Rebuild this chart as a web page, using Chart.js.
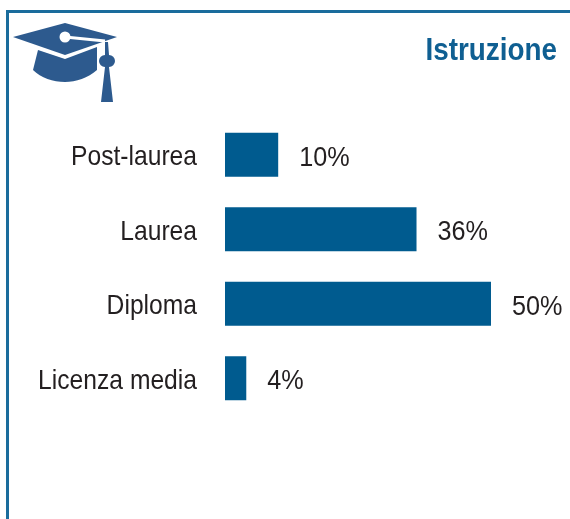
<!DOCTYPE html>
<html>
<head>
<meta charset="utf-8">
<title>Istruzione</title>
<script src="https://cdn.jsdelivr.net/npm/chart.js@4"></script>
<style>
    html, body { margin: 0; padding: 0; background: #fff; overflow: hidden; }
    #wrap { position: relative; width: 570px; height: 519px; }
    #frame { position: absolute; left: 6px; top: 10px; width: 570px; height: 520px; border-left: 3px solid #1a6c9c; border-top: 3px solid #1a6c9c; }
    #icon { position: absolute; left: 0; top: 0; }
    #chart { position: absolute; left: 0; top: 0; }
</style>
</head>
<body>
<div id="wrap">
    <div id="frame"></div>
    <canvas id="chart" width="570" height="519"></canvas>
    <svg id="icon" width="130" height="110" viewBox="0 0 130 110">
        <path fill="#2d5a8e" d="M13 37 L65 23 L117 37 L65 55 Z"/>
        <path fill="#2d5a8e" d="M38 50 L65 59 L97 47 L97 70 C88 78 76 82 65 82 C53 82 41 78 33 70 Z"/>
        <path fill="none" stroke="#fff" stroke-width="3" d="M65 37 L105 41"/>
        <circle cx="65" cy="37" r="5.5" fill="#fff"/>
        <path fill="#2d5a8e" d="M105 42 L108 42 L109 55 A6 6 0 0 1 109 67 L113 102 L101 102 L105 67 A6 6 0 0 1 105 55 Z"/>
    </svg>
</div>
<script>
const categories = ['Post-laurea', 'Laurea', 'Diploma', 'Licenza media'];
const shares = [10, 36, 50, 4];
const chartTitle = 'Istruzione';

// no narrow font is installed, so squeeze Liberation Sans sideways
function narrowText(ctx, text, x, y, align, squeeze) {
    ctx.save();
    ctx.translate(x, y);
    ctx.scale(squeeze, 1);
    ctx.textAlign = align;
    ctx.textBaseline = 'alphabetic';
    ctx.fillText(text, 0, 0);
    ctx.restore();
}

const chartText = {
    id: 'chartText',
    afterDatasetsDraw(chart) {
        const ctx = chart.ctx;
        const yScale = chart.scales.y;
        const bars = chart.getDatasetMeta(0).data;
        ctx.save();
        ctx.font = '28px "Liberation Sans"';
        ctx.fillStyle = '#231f20';
        categories.forEach((label, i) => {
            narrowText(ctx, label, 197, yScale.getPixelForValue(i) + 10.5, 'right', 0.88);
        });
        bars.forEach((bar, i) => {
            narrowText(ctx, `${shares[i]}%`, bar.x + 21, bar.y + 11, 'left', 0.9);
        });
        ctx.font = 'bold 32px "Liberation Sans"';
        ctx.fillStyle = '#0f5f92';
        narrowText(ctx, chartTitle, 557, 60, 'right', 0.87);
        ctx.restore();
    }
};

new Chart(document.getElementById('chart').getContext('2d'), {
    type: 'bar',
    data: {
        labels: categories,
        datasets: [{
            data: shares,
            backgroundColor: '#005b8f',
            categoryPercentage: 1,
            barPercentage: 0.59
        }]
    },
    options: {
        indexAxis: 'y',
        responsive: false,
        animation: false,
        layout: { padding: { top: 117.5, bottom: 103.5, left: 0, right: 0 } },
        plugins: {
            legend: { display: false },
            tooltip: { enabled: false }
        },
        scales: {
            x: { display: false, min: 0, max: 64.85 },
            y: {
                afterFit(scale) { scale.width = 225; },
                border: { display: false },
                grid: { display: false },
                ticks: { display: false }
            }
        }
    },
    plugins: [chartText]
});
</script>
</body>
</html>
